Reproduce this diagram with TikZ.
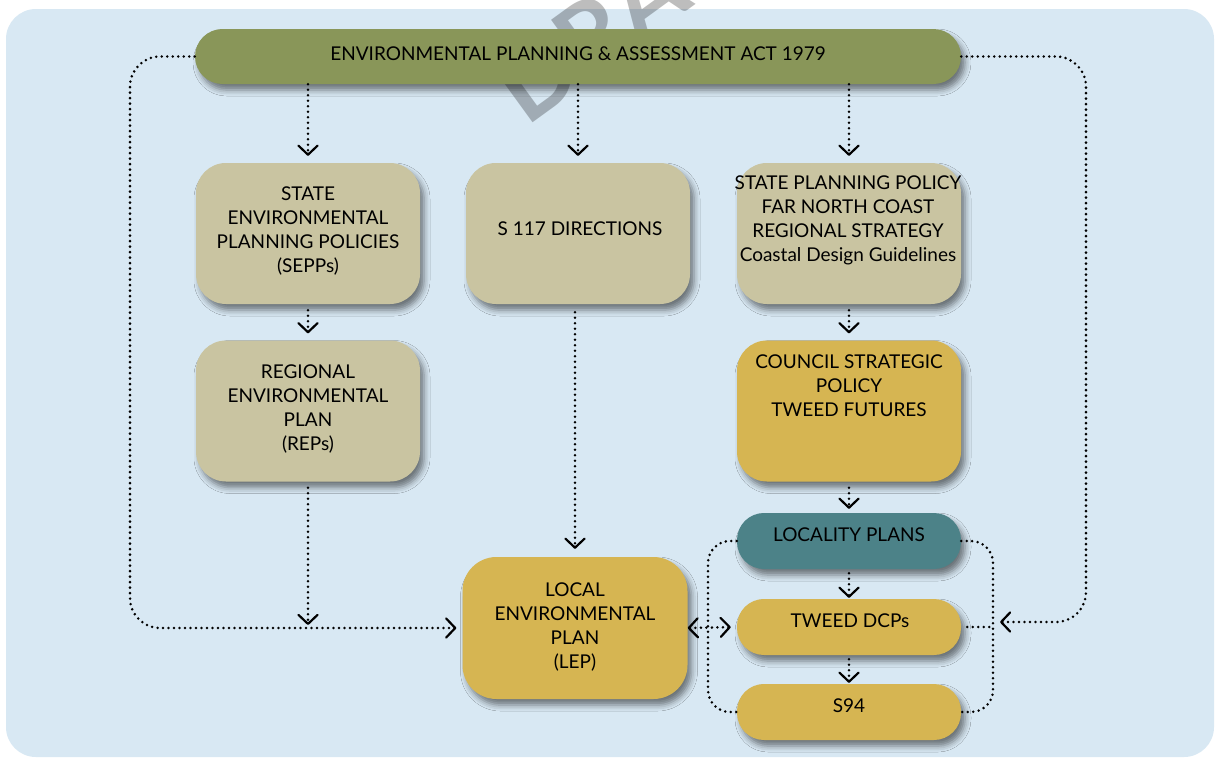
\documentclass[tikz,border=0pt]{standalone}
\usepackage{fontspec}
\setmainfont{Lato}
\usetikzlibrary{arrows.meta,shadows.blur}
\definecolor{panel}{RGB}{216,232,243}
\definecolor{olive}{RGB}{137,150,89}
\definecolor{beige}{RGB}{201,196,161}
\definecolor{gold}{RGB}{214,181,82}
\definecolor{teal}{RGB}{76,130,136}
\tikzset{
  shad/.style={blur shadow={shadow xshift=4pt, shadow yshift=-6pt, shadow blur radius=6pt, shadow opacity=50}},
  box/.style={shad, rounded corners=30pt, minimum width=224pt, minimum height=141pt, inner sep=0pt},
  pill/.style={shad, rounded corners=27pt, minimum width=224pt, minimum height=56pt, inner sep=0pt},
  txt/.style={align=center, font=\fontsize{19}{24}\selectfont, inner sep=0pt, text=black},
  dot/.style={line width=2.8pt, dash pattern=on 0pt off 5.5pt, line cap=round},
  arr/.style={-{Straight Barb[length=9pt,width=19pt,line width=2.2pt,round]}},
  arrb/.style={{Straight Barb[length=9pt,width=19pt,line width=2.2pt,round]}-{Straight Barb[length=9pt,width=19pt,line width=2.2pt,round]}},
}
\begin{document}
\begin{tikzpicture}[x=1pt,y=-1pt]
\useasboundingbox (0,0) rectangle (1216,758);
\fill[white] (0,0) rectangle (1216,758);
\fill[panel, rounded corners=30pt] (6,9) rectangle (1214,757);
% watermark
\begin{scope}
\clip (0,0) rectangle (1216,758);
\node[font=\bfseries\fontsize{100}{100}\selectfont, text=black, text opacity=0.26, rotate=36, anchor=base west, inner sep=0pt] (wm) at (526,128) {DRAFT};
\end{scope}
% nodes
\node[shad, fill=olive, rounded corners=27.5pt, minimum width=766pt, minimum height=55pt, inner sep=0pt] (bar) at (578,56.5) {};
\node[txt] (bart) at (578,54) {ENVIRONMENTAL PLANNING \& ASSESSMENT ACT 1979};

\node[box, fill=beige] (sepp) at (308,233.5) {};
\node[txt] (seppt) at (308,231) {STATE\\ENVIRONMENTAL\\PLANNING POLICIES\\(SEPPs)};
\node[box, fill=beige] (rep) at (308,411) {};
\node[txt] (rept) at (308,409) {REGIONAL\\ENVIRONMENTAL\\PLAN\\(REPs)};
\node[box, fill=beige] (s117) at (578,233.5) {};
\node[txt] (s117t) at (580,229) {S 117 DIRECTIONS};
\node[box, fill=beige] (spp) at (849,233.5) {};
\node[txt] (sppt) at (848,220) {STATE PLANNING POLICY\\FAR NORTH COAST\\REGIONAL STRATEGY\\Coastal Design Guidelines};
\node[box, fill=gold] (csp) at (849,411) {};
\node[txt] (cspt) at (849,386) {COUNCIL STRATEGIC\\POLICY\\TWEED FUTURES};
\node[pill, fill=teal] (loc) at (849,541) {};
\node[txt] (loct) at (849,535) {LOCALITY PLANS};
\node[pill, fill=gold] (dcp) at (849,627) {};
\node[txt] (dcpt) at (850,621) {TWEED DCPs};
\node[pill, fill=gold] (s94) at (849,712) {};
\node[txt] (s94t) at (849,706) {S94};
\node[box, fill=gold, rounded corners=34pt, minimum width=225pt, minimum height=142pt] (lep) at (575,628) {};
\node[txt] (lept) at (575,627) {LOCAL\\ENVIRONMENTAL\\PLAN\\(LEP)};

% helper coordinates
\coordinate (lx) at (130,0);
\coordinate (rx) at (1086,0);
\coordinate (rb) at (993,0);
\coordinate (lb) at (708,0);
\coordinate (rtip) at (1000,622);

% connectors
\draw[dot, arr, shorten >=7pt] (sepp.north |- bar.south) -- (sepp.north);
\draw[dot, arr, shorten >=7pt] (s117.north |- bar.south) -- (s117.north);
\draw[dot, arr, shorten >=7pt] (spp.north |- bar.south) -- (spp.north);
\draw[dot, arr, shorten <=6pt, shorten >=7pt] (sepp.south) -- (rep.north);
\draw[dot, arr, shorten <=6pt, shorten >=3pt] (rep.south) -- (rep.south |- lep.west);
\draw[dot, arr, shorten <=8pt, shorten >=8pt] (s117.south -| lep.north) -- (lep.north);
\draw[dot, arr, shorten <=6pt, shorten >=7pt] (spp.south) -- (csp.north);
\draw[dot, arr, shorten <=6pt, shorten >=4pt] (csp.south) -- (loc.north);
\draw[dot, arr, shorten <=4pt, shorten >=1pt] (loc.south) -- (dcp.north);
\draw[dot, arr, shorten <=4pt, shorten >=1pt] (dcp.south) -- (s94.north);
\draw[dot, arr, rounded corners=30pt, shorten >=6pt] (bar.west) -- (bar.west -| lx) -- (lx |- lep.west) -- (lep.west);
\draw[dot, arr, rounded corners=30pt] (bar.east) -- (bar.east -| rx) -- (rx |- rtip) -- (rtip);
\draw[dot, shorten <=6pt] (dcp.east) -- (dcp.east -| rb);
\draw[dot, rounded corners=22pt] (loc.east) -- (loc.east -| rb) -- (rb |- s94.east) -- (s94.east);
\draw[dot, rounded corners=22pt] (loc.west) -- (loc.west -| lb) -- (lb |- s94.west) -- (s94.west);
\draw[dot, arrb, shorten >=6pt] (lep.east) -- (dcp.west);
\end{tikzpicture}
\end{document}
